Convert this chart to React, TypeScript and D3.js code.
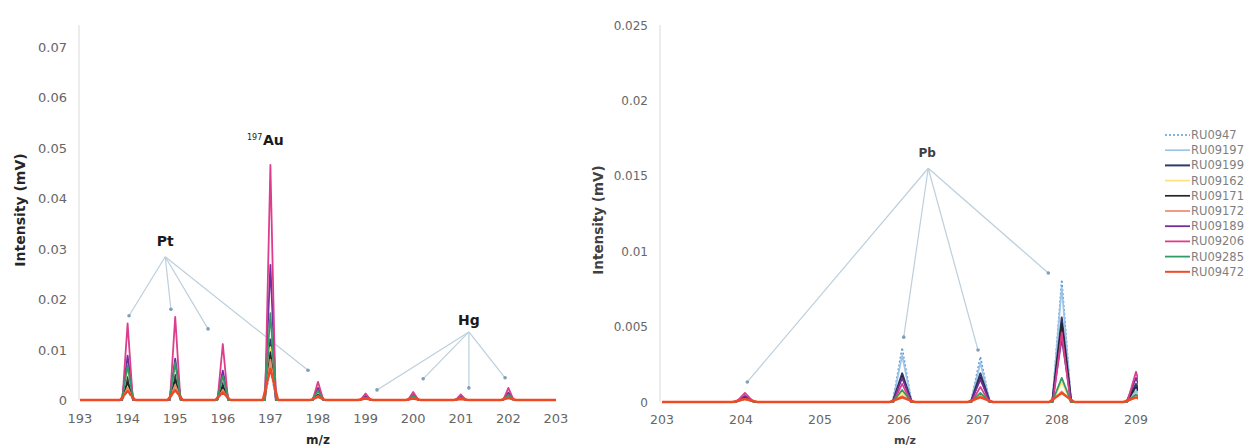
import React from "react";
import * as d3 from "d3";

// ---- series ----
const SERIES_NAMES = ["RU0947", "RU09197", "RU09199", "RU09162", "RU09171", "RU09172", "RU09189", "RU09206", "RU09285", "RU09472"];
const SERIES_COLORS = ["#5b9bd5", "#9dc3e6", "#2f3a6b", "#ffe27a", "#262626", "#f08a6c", "#7030a0", "#dc3d8c", "#339966", "#f04a24"];
const SERIES_DASH = ["2,2", "", "", "", "", "", "", "", "", ""];
const SERIES_WIDTH = [1.6, 1.7, 2, 1.7, 1.7, 1.7, 1.8, 1.8, 1.8, 2.4];
const SERIES_HALFWIDTH = [0.12, 0.12, 0.12, 0.12, 0.12, 0.13, 0.12, 0.11, 0.12, 0.16];

// ---- left panel (m/z 193-203) ----
const LEFT_MASSES = [194, 195, 196, 197, 198, 199, 200, 201, 202];
const LEFT_RU0947 = [0.0018, 0.0022, 0.0016, 0.0062, 0.0006, 0.0003, 0.0004, 0.0003, 0.0005];
const LEFT_RU09197 = [0.0024, 0.0028, 0.002, 0.0075, 0.0007, 0.0003, 0.0004, 0.0003, 0.0006];
const LEFT_RU09199 = [0.0045, 0.005, 0.0035, 0.012, 0.0012, 0.0005, 0.0006, 0.0004, 0.0008];
const LEFT_RU09162 = [0.0062, 0.0068, 0.0045, 0.0105, 0.0015, 0.0006, 0.0008, 0.0005, 0.001];
const LEFT_RU09171 = [0.0035, 0.004, 0.0028, 0.0095, 0.001, 0.0004, 0.0005, 0.0004, 0.0007];
const LEFT_RU09172 = [0.0025, 0.003, 0.002, 0.008, 0.0008, 0.0004, 0.0005, 0.0003, 0.0006];
const LEFT_RU09189 = [0.0088, 0.0082, 0.0058, 0.0268, 0.0024, 0.0008, 0.001, 0.0007, 0.0015];
const LEFT_RU09206 = [0.0152, 0.0165, 0.0111, 0.0466, 0.0036, 0.0013, 0.0016, 0.0011, 0.0024];
const LEFT_RU09285 = [0.0068, 0.0074, 0.0048, 0.0172, 0.0018, 0.0005, 0.0008, 0.0005, 0.001];
const LEFT_RU09472 = [0.0018, 0.002, 0.0015, 0.0062, 0.0006, 0.0003, 0.0003, 0.0002, 0.0004];
const LEFT_SERIES = [LEFT_RU0947, LEFT_RU09197, LEFT_RU09199, LEFT_RU09162, LEFT_RU09171, LEFT_RU09172, LEFT_RU09189, LEFT_RU09206, LEFT_RU09285, LEFT_RU09472];
const LEFT_X_TICKS = [193, 194, 195, 196, 197, 198, 199, 200, 201, 202, 203];
const LEFT_Y_TICKS = [0, 0.01, 0.02, 0.03, 0.04, 0.05, 0.06, 0.07];
const LEFT_Y_LABELS = ["0", "0.01", "0.02", "0.03", "0.04", "0.05", "0.06", "0.07"];

// annotations (data coords)
const PT_APEX = [194.79, 0.0284];
const PT_TARGETS = [[194.03, 0.0167], [194.91, 0.018], [195.69, 0.0141], [197.79, 0.0059]];
const HG_APEX = [201.17, 0.0135];
const HG_TARGETS = [[199.24, 0.002], [200.21, 0.0042], [201.17, 0.0024], [201.93, 0.0044]];

// ---- right panel (m/z 203-209) ----
const RIGHT_MASSES = [204.05, 206.04, 207.03, 208.06, 209.0];
const RIGHT_RU0947 = [0.0005, 0.0036, 0.003, 0.0081, 0.0008];
const RIGHT_RU09197 = [0.0004, 0.0031, 0.0026, 0.0076, 0.0007];
const RIGHT_RU09199 = [0.0003, 0.0019, 0.0019, 0.0056, 0.0012];
const RIGHT_RU09162 = [0.0002, 0.0006, 0.0005, 0.0013, 0.0004];
const RIGHT_RU09171 = [0.0003, 0.0017, 0.0016, 0.0052, 0.001];
const RIGHT_RU09172 = [0.0002, 0.0004, 0.0004, 0.0007, 0.0003];
const RIGHT_RU09189 = [0.0004, 0.0016, 0.0015, 0.0042, 0.0016];
const RIGHT_RU09206 = [0.0006, 0.0012, 0.001, 0.0046, 0.002];
const RIGHT_RU09285 = [0.0002, 0.0008, 0.0006, 0.0016, 0.0005];
const RIGHT_RU09472 = [0.0002, 0.0003, 0.0003, 0.0006, 0.0003];
const RIGHT_SERIES = [RIGHT_RU0947, RIGHT_RU09197, RIGHT_RU09199, RIGHT_RU09162, RIGHT_RU09171, RIGHT_RU09172, RIGHT_RU09189, RIGHT_RU09206, RIGHT_RU09285, RIGHT_RU09472];
const RIGHT_X_TICKS = [203, 204, 205, 206, 207, 208, 209];
const RIGHT_Y_TICKS = [0, 0.005, 0.01, 0.015, 0.02, 0.025];
const RIGHT_Y_LABELS = ["0", "0.005", "0.01", "0.015", "0.02", "0.025"];
const PB_APEX = [206.37, 0.0155];
const PB_TARGETS = [[204.08, 0.00133], [206.06, 0.0043], [207.0, 0.00345], [207.89, 0.00855]];

const TICK_COLOR = "#666666";
const ANNOT_LINE = "#bccfdc";
const ANNOT_DOT = "#7f9fb5";
const FONT = "DejaVu Sans, Verdana, sans-serif";

function peakPoints(masses: number[], heights: number[], domain: number[], hw: number): [number, number][] {
  const pts: [number, number][] = [[domain[0], 0]];
  masses.forEach((m, i) => {
    pts.push([m - hw, 0]);
    pts.push([m, heights[i]]);
    pts.push([m + hw, 0]);
  });
  pts.push([domain[1], 0]);
  return pts;
}

export default function App() {
  const xL = d3.scaleLinear().domain([193, 203]).range([80, 556]);
  const yL = d3.scaleLinear().domain([0, 0.07]).range([400, 47]);
  const xR = d3.scaleLinear().domain([203, 209]).range([662, 1136]);
  const yR = d3.scaleLinear().domain([0, 0.025]).range([402, 25]);

  const lineL = d3.line<[number, number]>().x((d) => xL(d[0])).y((d) => yL(d[1]));
  const lineR = d3.line<[number, number]>().x((d) => xR(d[0])).y((d) => yR(d[1]));

  const annot = (apex: number[], targets: number[][], xs: any, ys: any, key: string) => (
    <g key={key}>
      {targets.map((t, i) => (
        <line key={i} x1={xs(apex[0])} y1={ys(apex[1])} x2={xs(t[0])} y2={ys(t[1])} stroke={ANNOT_LINE} strokeWidth={1.2} />
      ))}
      {targets.map((t, i) => (
        <circle key={"d" + i} cx={xs(t[0])} cy={ys(t[1])} r={1.8} fill={ANNOT_DOT} />
      ))}
    </g>
  );

  return (
    <div style={{ position: "absolute", left: 0, top: 0 }}>
      <svg width={1258} height={446} style={{ display: "block", background: "#fff" }}>
        <defs>
          <clipPath id="clipL">
            <rect x={xL(193)} y={0} width={xL(203) - xL(193)} height={yL(0) + 3} />
          </clipPath>
          <clipPath id="clipR">
            <rect x={xR(203)} y={0} width={xR(209) - xR(203) + 2} height={yR(0) + 3} />
          </clipPath>
        </defs>

        {/* ===== LEFT PANEL ===== */}
        <line x1={79} x2={79} y1={25} y2={yL(0)} stroke="#d9d9d9" strokeWidth={1} />
        {LEFT_Y_TICKS.map((v, i) => (
          <text key={i} x={67} y={yL(v) + 5} textAnchor="end" fontFamily={FONT} fontSize={13} fill={TICK_COLOR}>
            {LEFT_Y_LABELS[i]}
          </text>
        ))}
        {LEFT_X_TICKS.map((v) => (
          <text key={v} x={xL(v)} y={423} textAnchor="middle" fontFamily={FONT} fontSize={13} fill={TICK_COLOR}>
            {v}
          </text>
        ))}
        <text transform={`translate(25,210) rotate(-90)`} textAnchor="middle" fontFamily={FONT} fontWeight="bold" fontSize={14} fill="#262626">
          Intensity (mV)
        </text>
        <text x={318} y={444} textAnchor="middle" fontFamily={FONT} fontWeight="bold" fontSize={12} fill="#262626">
          m/z
        </text>

        {annot(PT_APEX, PT_TARGETS, xL, yL, "pt")}
        {annot(HG_APEX, HG_TARGETS, xL, yL, "hg")}

        <g clipPath="url(#clipL)">
          {LEFT_SERIES.map((s, i) => (
            <path
              key={i}
              d={lineL(peakPoints(LEFT_MASSES, s, [193, 203], SERIES_HALFWIDTH[i])) || ""}
              fill="none"
              stroke={SERIES_COLORS[i]}
              strokeWidth={SERIES_WIDTH[i]}
              strokeDasharray={SERIES_DASH[i] || undefined}
              strokeLinejoin="round"
            />
          ))}
        </g>

        <text x={xL(PT_APEX[0])} y={246} textAnchor="middle" fontFamily={FONT} fontWeight="bold" fontSize={14} fill="#1a1a1a">
          Pt
        </text>
        <text x={247} y={140} fontFamily={FONT} fontSize={8} fill="#1a1a1a">197</text>
        <text x={263} y={145} fontFamily={FONT} fontWeight="bold" fontSize={14} fill="#1a1a1a">Au</text>
        <text x={xL(HG_APEX[0])} y={325} textAnchor="middle" fontFamily={FONT} fontWeight="bold" fontSize={14} fill="#1a1a1a">
          Hg
        </text>

        {/* ===== RIGHT PANEL ===== */}
        <line x1={660} x2={660} y1={25} y2={yR(0)} stroke="#d9d9d9" strokeWidth={1} />
        {RIGHT_Y_TICKS.map((v, i) => (
          <text key={i} x={648} y={yR(v) + 4.5} textAnchor="end" fontFamily={FONT} fontSize={12} fill={TICK_COLOR}>
            {RIGHT_Y_LABELS[i]}
          </text>
        ))}
        {RIGHT_X_TICKS.map((v) => (
          <text key={v} x={xR(v)} y={424} textAnchor="middle" fontFamily={FONT} fontSize={12.5} fill={TICK_COLOR}>
            {v}
          </text>
        ))}
        <text transform={`translate(603,220) rotate(-90)`} textAnchor="middle" fontFamily={FONT} fontWeight="bold" fontSize={13.5} fill="#404040">
          Intensity (mV)
        </text>
        <text x={905} y={444} textAnchor="middle" fontFamily={FONT} fontWeight="bold" fontSize={11} fill="#404040">
          m/z
        </text>

        {annot(PB_APEX, PB_TARGETS, xR, yR, "pb")}

        <g clipPath="url(#clipR)">
          {RIGHT_SERIES.map((s, i) => (
            <path
              key={i}
              d={lineR(peakPoints(RIGHT_MASSES, s, [203, 209.3], SERIES_HALFWIDTH[i])) || ""}
              fill="none"
              stroke={SERIES_COLORS[i]}
              strokeWidth={SERIES_WIDTH[i]}
              strokeDasharray={SERIES_DASH[i] || undefined}
              strokeLinejoin="round"
            />
          ))}
        </g>
        <text x={xR(PB_APEX[0]) - 1} y={157} textAnchor="middle" fontFamily={FONT} fontWeight="bold" fontSize={12} fill="#404040">
          Pb
        </text>

        {/* ===== LEGEND ===== */}
        {SERIES_NAMES.map((n, i) => {
          const y = 135 + i * 15.2;
          return (
            <g key={n}>
              <line x1={1165} x2={1190} y1={y} y2={y} stroke={SERIES_COLORS[i]} strokeWidth={Math.min(SERIES_WIDTH[i], 2)} strokeDasharray={SERIES_DASH[i] || undefined} />
              <text x={1191} y={y + 4} fontFamily={FONT} fontSize={11.5} fill="#7f7f7f">
                {n}
              </text>
            </g>
          );
        })}
      </svg>
    </div>
  );
}
